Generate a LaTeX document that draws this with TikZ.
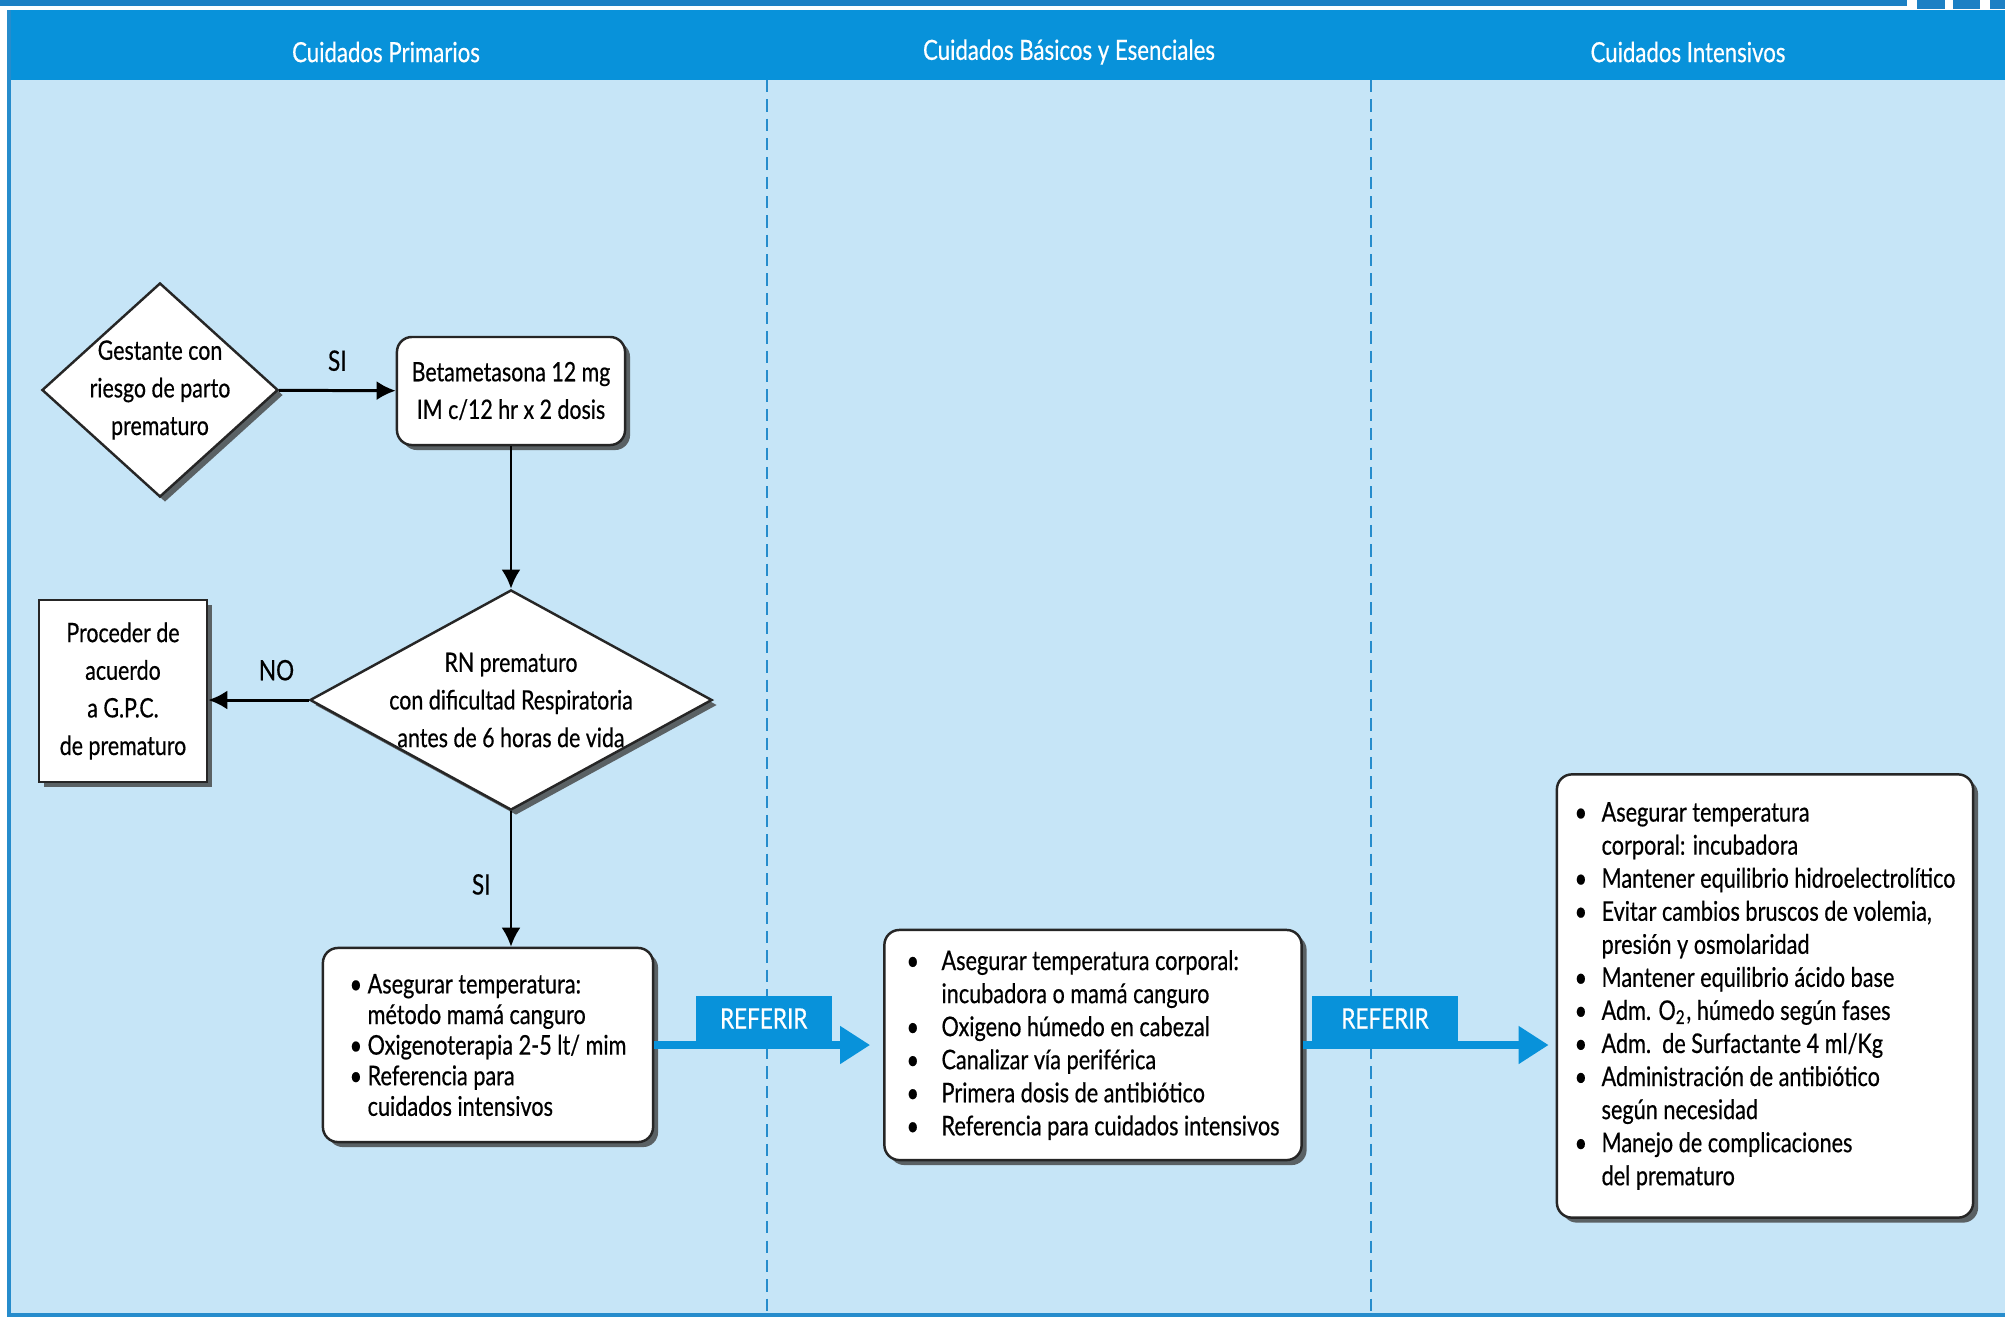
\documentclass[tikz,border=0pt]{standalone}
\usepackage{fontspec}
\setmainfont[FakeStretch=0.8, FakeBold=0.5]{Lato}
\usetikzlibrary{shapes.geometric,shadows,arrows.meta}

\definecolor{franja}{RGB}{28,128,196}
\definecolor{cabecera}{RGB}{8,146,218}
\definecolor{fondo}{RGB}{198,229,247}
\definecolor{borde}{RGB}{38,140,204}

\newcommand{\vin}[1][0.3cm]{\makebox[#1][l]{\textbullet}}
\newcommand{\sig}[1][0.3cm]{\hspace*{#1}}

\begin{document}
\begin{tikzpicture}
	[x=0.01cm, y=-0.01cm,
	every node/.style={font=\fontsize{7.6}{10.7}\selectfont},
	sombra/.style={drop shadow={shadow xshift=0.5mm, shadow yshift=-0.5mm, fill=black!75, opacity=.8}},
	decision/.style={diamond, draw=black!85, line width=0.7pt, fill=white, inner sep=-1.5pt, align=center, sombra},
	proceso/.style={rectangle, rounded corners=0.15cm, draw=black!85, line width=0.7pt, fill=white, align=center, sombra},
	lista/.style={proceso, align=left, font=\fontsize{7.7}{9.4}\selectfont},
	flujo/.style={line width=0.85pt, -{Latex[length=0.19cm,width=0.19cm]}},
	referir/.style={draw=cabecera, line width=2.3pt, -{Triangle[length=0.3cm,width=0.36cm]}},
	pestana/.style={fill=cabecera, text=white, minimum height=0.45cm, inner sep=0pt, anchor=south, font=\fontsize{8}{9}\selectfont},
	etiqueta/.style={inner sep=0pt, font=\fontsize{8}{9}\selectfont},
	titulo/.style={text=white, font=\fontsize{7.9}{10}\selectfont}]
	\useasboundingbox (0,0) rectangle (2005,1320);
	\fill[white] (0,0) rectangle (2005,1320);
	\fill[franja] (0,0) rectangle (1907,6);
	\foreach \a/\b in {1917/1945,1953/1980,1990/2005}
		\fill[franja] (\a,0) rectangle (\b,9);
	\fill[cabecera] (7,10) rectangle (2005,80);
	\fill[fondo] (11,80) rectangle (2005,1313);
	\draw[borde, line width=1.1pt] (9,10) -- (9,1315) -- (2005,1315);
	\foreach \x in {767,1371}
		\draw[borde, line width=0.6pt, dash pattern=on 3.5pt off 2pt] (\x,80) -- (\x,1313);
	% encabezados
	\node[titulo] (tprim) at (386,52) {Cuidados Primarios};
	\node[titulo] (tbas) at (1069,52) {Cuidados Básicos y Esenciales};
	\node[titulo] (tint) at (1688,52) {Cuidados Intensivos};
	% flujo
	\node[decision, aspect=1.1, minimum width=2.36cm, minimum height=2.14cm] (gestante) at (160,390)
		{Gestante con\\riesgo de parto\\prematuro};
	\node[proceso, minimum width=2.28cm, minimum height=1.08cm] (beta) at (511,391)
		{Betametasona 12 mg\\IM c/12 hr x 2 dosis};
	\node[decision, aspect=1.83, minimum width=4.02cm, minimum height=2.2cm] (rn) at (511,700)
		{RN prematuro\\con dificultad Respiratoria\\antes de 6 horas de vida};
	\node[proceso, sharp corners, minimum width=1.68cm, minimum height=1.82cm] (proceder) at (123,691)
		{Proceder de\\acuerdo\\a G.P.C.\\de prematuro};
	\node[lista, font=\fontsize{7.7}{8.7}\selectfont, minimum width=3.3cm, minimum height=1.94cm] (primario) at (488,1045)
		{\vin[0.18cm]Asegurar temperatura:\\
		 \sig[0.18cm]método mamá canguro\\
		 \vin[0.18cm]Oxigenoterapia 2-5 lt/ mim\\
		 \vin[0.18cm]Referencia para\\
		 \sig[0.18cm]cuidados intensivos};
	\node[lista, minimum width=4.17cm, minimum height=2.3cm] (basico) at (1093,1045)
		{\vin[0.35cm]Asegurar temperatura corporal:\\
		 \sig[0.35cm]incubadora o mamá canguro\\
		 \vin[0.35cm]Oxigeno húmedo en cabezal\\
		 \vin[0.35cm]Canalizar vía periférica\\
		 \vin[0.35cm]Primera dosis de antibiótico\\
		 \vin[0.35cm]Referencia para cuidados intensivos};
	\node[lista, minimum width=4.16cm, minimum height=4.43cm] (intensivo) at (1765,996)
		{\vin[0.27cm]Asegurar temperatura\\
		 \sig[0.27cm]corporal: incubadora\\
		 \vin[0.27cm]Mantener equilibrio hidroelectrolítico\\
		 \vin[0.27cm]Evitar cambios bruscos de volemia,\\
		 \sig[0.27cm]presión y osmolaridad\\
		 \vin[0.27cm]Mantener equilibrio ácido base\\
		 \vin[0.27cm]Adm. O\textsubscript{2}, húmedo según fases\\
		 \vin[0.27cm]Adm.\ \ de Surfactante 4 ml/Kg\\
		 \vin[0.27cm]Administración de antibiótico\\
		 \sig[0.27cm]según necesidad\\
		 \vin[0.27cm]Manejo de complicaciones\\
		 \sig[0.27cm]del prematuro};
	\draw[flujo] (gestante) -- node[etiqueta, above=0.18cm] {SI} (beta);
	\draw[flujo] (beta) -- (rn);
	\draw[flujo] (rn.west) -- node[etiqueta, above=0.18cm, pos=0.32] {NO} (proceder.east |- rn.west);
	\draw[flujo] (rn.south) -- node[etiqueta, left=0.19cm, pos=0.54] {SI} (rn.south |- primario.north);
	\draw[referir, shorten >=0.13cm] (primario.east) -- node[pestana, minimum width=1.36cm, pos=0.478] {REFERIR} (basico.west);
	\draw[referir, shorten >=0.07cm] (basico.east) -- node[pestana, minimum width=1.45cm, pos=0.325] {REFERIR} (intensivo.west |- basico.east);
\end{tikzpicture}
\end{document}
